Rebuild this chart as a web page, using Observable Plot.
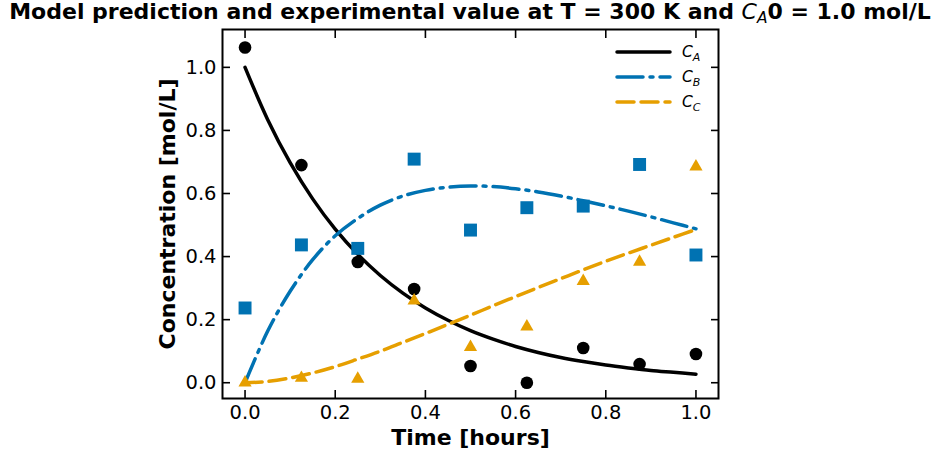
<!DOCTYPE html>
<html>
<head>
<meta charset="utf-8">
<script src="https://cdn.jsdelivr.net/npm/d3@7"></script>
<script src="https://cdn.jsdelivr.net/npm/@observablehq/plot@0.6"></script>
<style>
  body { margin: 0; background: white; font-family: "DejaVu Sans", sans-serif; }
  #wrap { position: relative; width: 940px; height: 458px; overflow: hidden; }
  #title { height: 24px; line-height: 24px; font-size: 22px; font-weight: bold; text-align: center; white-space: nowrap; position: relative; z-index: 2; }
  #title .m { font-weight: normal; font-style: italic; }
  #title sub { font-size: 0.7em; vertical-align: -0.25em; line-height: 0; }
  #legend { position: absolute; left: 610px; top: 38px; }
</style>
</head>
<body>
<div id="wrap">
  <div id="title">Model prediction and experimental value at T = 300 K and <span class="m">C<sub>A</sub></span>0 = 1.0 mol/L</div>
  <div id="chart"></div>
  <div id="legend"></div>
</div>
<script>
// Observation times (hours)
const timeObs = [0, 0.125, 0.25, 0.375, 0.5, 0.625, 0.75, 0.875, 1.0];
// Experimental concentrations (mol/L)
const caObs = [1.063, 0.690, 0.383, 0.297, 0.053, 0.000, 0.110, 0.059, 0.091];
const cbObs = [0.237, 0.437, 0.426, 0.709, 0.484, 0.555, 0.560, 0.692, 0.405];
const ccObs = [0.000, 0.015, 0.012, 0.260, 0.113, 0.178, 0.322, 0.383, 0.685];

// Model curves
const timeModel = [0, 0.05, 0.1, 0.15, 0.2, 0.25, 0.3, 0.35, 0.4, 0.45, 0.5, 0.55, 0.6, 0.65, 0.7, 0.75, 0.8, 0.85, 0.9, 0.95, 1.0];
const caModel = [1.000, 0.835, 0.698, 0.583, 0.487, 0.407, 0.340, 0.284, 0.237, 0.198, 0.165, 0.138, 0.115, 0.096, 0.080, 0.067, 0.056, 0.047, 0.039, 0.033, 0.027];
const cbModel = [0.000, 0.163, 0.290, 0.390, 0.466, 0.521, 0.563, 0.592, 0.610, 0.620, 0.624, 0.622, 0.615, 0.605, 0.592, 0.577, 0.561, 0.544, 0.526, 0.507, 0.488];
const ccModel = [0.000, 0.004, 0.015, 0.031, 0.051, 0.075, 0.100, 0.128, 0.156, 0.185, 0.214, 0.244, 0.273, 0.302, 0.330, 0.358, 0.385, 0.411, 0.436, 0.461, 0.486];

const xTicks = [0, 0.2, 0.4, 0.6, 0.8, 1.0];
const yTicks = [0, 0.2, 0.4, 0.6, 0.8, 1.0];

const series = [
  {key: "A", label: "A", color: "#000000", dash: null, symbol: "circle", r: 6.3, model: caModel, obs: caObs},
  {key: "B", label: "B", color: "#0072B2", dash: "26,7,3,7", symbol: "square", r: 7.3, model: cbModel, obs: cbObs},
  {key: "C", label: "C", color: "#E69F00", dash: "17,7", symbol: "triangle", r: 4.9, model: ccModel, obs: ccObs}
];

const lineW = 3.5;
const marks = [];
for (const s of series) {
  const rows = timeModel.map((t, i) => ({t, c: s.model[i]}));
  marks.push(Plot.line(rows, {x: "t", y: "c", stroke: s.color, strokeWidth: lineW, strokeDasharray: s.dash || undefined, strokeLinecap: "round", curve: "catmull-rom"}));
}
for (const s of series) {
  const rows = timeObs.map((t, i) => ({t, c: s.obs[i]}));
  marks.push(Plot.dot(rows, {x: "t", y: "c", fill: s.color, symbol: s.symbol, r: s.r, stroke: null}));
}
const tickOpts = {tickFormat: () => "", label: null, strokeWidth: 1.6};
marks.push(
  Plot.frame({strokeWidth: 2}),
  Plot.axisX({anchor: "bottom", ticks: xTicks, tickSize: -8, ...tickOpts}),
  Plot.axisX({anchor: "top", ticks: xTicks, tickSize: -8, ...tickOpts}),
  Plot.axisY({anchor: "left", ticks: yTicks, tickSize: -8, ...tickOpts}),
  Plot.axisY({anchor: "right", ticks: yTicks, tickSize: -8, ...tickOpts}),
  Plot.axisX({anchor: "bottom", ticks: xTicks, tickSize: 0, tickPadding: 7, tickFormat: d3.format(".1f"), label: null, fontSize: 19.5}),
  Plot.axisY({anchor: "left", ticks: yTicks, tickSize: 0, tickPadding: 6, tickFormat: d3.format(".1f"), label: null, fontSize: 19.5}),
  Plot.text(["Time [hours]"], {text: d => d, frameAnchor: "bottom", dy: 46, fontSize: 22, fontWeight: "bold"}),
  Plot.text(["Concentration [mol/L]"], {text: d => d, frameAnchor: "left", textAnchor: "middle", dx: -55, rotate: -90, fontSize: 22, fontWeight: "bold"})
);

const chart = Plot.plot({
  width: 940,
  height: 434,
  marginLeft: 222,
  marginRight: 222,
  marginTop: 5,
  marginBottom: 60,
  x: {domain: [-0.05, 1.05]},
  y: {domain: [-0.05, 1.12]},
  style: {fontFamily: "DejaVu Sans", fontSize: "16px", color: "black", background: "white", overflow: "visible"},
  marks
});
document.getElementById("chart").appendChild(chart);

// Legend (inside the axes, upper right)
const lg = d3.select("#legend").append("svg").attr("width", 110).attr("height", 80);
series.forEach((s, i) => {
  const y = 14 + i * 25;
  lg.append("line").attr("x1", 7).attr("x2", 60).attr("y1", y).attr("y2", y)
    .attr("stroke", s.color).attr("stroke-width", lineW).attr("stroke-linecap", "round")
    .attr("stroke-dasharray", s.dash);
  const t = lg.append("text").attr("x", 72).attr("y", y + 5).attr("font-family", "DejaVu Sans").attr("font-size", 15.5).attr("font-style", "italic");
  t.append("tspan").text("C");
  t.append("tspan").attr("font-size", 11).attr("dy", 3.5).text(s.label);
});
</script>
</body>
</html>
